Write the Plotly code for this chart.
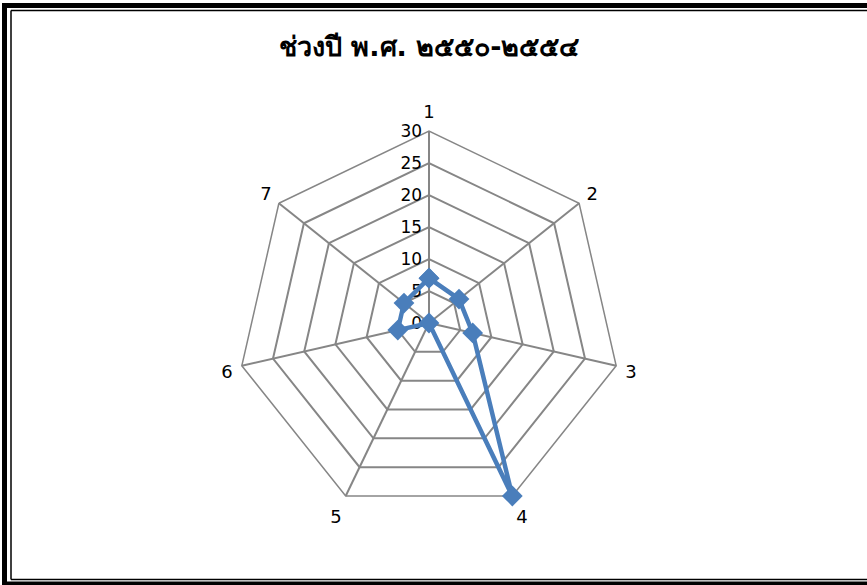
import plotly.graph_objects as go

categories = ["1", "2", "3", "4", "5", "6", "7"]
values = [7, 6, 7, 30, 0, 5, 5]
radial_ticks = [0, 5, 10, 15, 20, 25, 30]
title_text = "ช่วงปี พ.ศ. ๒๕๕๐-๒๕๕๔"

W, H = 867, 585
cx, cy, R = 429, 323, 192

fig = go.Figure()
# invisible trace on the grid polar so its angular categories are set
fig.add_trace(go.Scatterpolar(
    r=values, theta=categories, mode="markers",
    marker=dict(opacity=0), hoverinfo="skip", showlegend=False, subplot="polar",
))
# visible series on an overlaid, transparent polar (circular shape keeps the r=0 marker)
fig.add_trace(go.Scatterpolar(
    r=values + values[:1],
    theta=categories + categories[:1],
    mode="lines+markers",
    line=dict(color="#4a7ebb", width=4.5),
    marker=dict(symbol="diamond", size=16, color="#4a7ebb"),
    cliponaxis=False,
    showlegend=False,
    subplot="polar2",
))

def px_x(x):
    return x / W

def px_y(y):
    return 1 - y / H

shapes = []
# thick outer border (left, top, bottom)
shapes.append(dict(type="line", xref="paper", yref="paper", x0=px_x(4.5), x1=px_x(4.5), y0=px_y(3), y1=px_y(585), line=dict(color="black", width=5)))
shapes.append(dict(type="line", xref="paper", yref="paper", x0=px_x(2), x1=px_x(867), y0=px_y(5.5), y1=px_y(5.5), line=dict(color="black", width=5)))
shapes.append(dict(type="line", xref="paper", yref="paper", x0=px_x(2), x1=px_x(867), y0=px_y(583.5), y1=px_y(583.5), line=dict(color="black", width=4)))
# thin inner border
shapes.append(dict(type="line", xref="paper", yref="paper", x0=px_x(11), x1=px_x(11), y0=px_y(10.5), y1=px_y(579.5), line=dict(color="black", width=1.5)))
shapes.append(dict(type="line", xref="paper", yref="paper", x0=px_x(11), x1=px_x(867), y0=px_y(10.5), y1=px_y(10.5), line=dict(color="black", width=1.5)))
shapes.append(dict(type="line", xref="paper", yref="paper", x0=px_x(11), x1=px_x(867), y0=px_y(579.5), y1=px_y(579.5), line=dict(color="black", width=1.5)))

font_family = "Tahoma, 'DejaVu Sans', 'Noto Sans', sans-serif"
domain = dict(x=[px_x(cx - R), px_x(cx + R)], y=[px_y(cy + R), px_y(cy - R)])

fig.update_layout(
    width=W, height=H,
    margin=dict(l=0, r=0, t=0, b=0),
    paper_bgcolor="white",
    font=dict(family=font_family, color="black", size=16),
    title=dict(text="<b>" + title_text + "</b>", x=0.495, xanchor="center",
               y=px_y(47), yanchor="middle", font=dict(size=27, color="black")),
    shapes=shapes,
    polar=dict(
        domain=domain,
        bgcolor="white",
        gridshape="linear",
        radialaxis=dict(
            range=[0, 30], tickvals=radial_ticks, angle=90, tickangle=90,
            side="counterclockwise",
            showline=True, linecolor="#868686", linewidth=2,
            gridcolor="#868686", gridwidth=1.5,
            ticks="", tickfont=dict(size=17, color="black"),
        ),
        angularaxis=dict(
            type="category", categoryarray=categories,
            direction="clockwise", rotation=90,
            showline=True, linecolor="#868686", linewidth=1.5,
            gridcolor="#868686", gridwidth=1.5,
            ticks="outside", ticklen=5, tickcolor="rgba(0,0,0,0)",
            tickfont=dict(size=18, color="black"),
        ),
    ),
    polar2=dict(
        domain=domain,
        bgcolor="rgba(0,0,0,0)",
        gridshape="circular",
        radialaxis=dict(
            range=[0, 30], visible=False, showgrid=False, showline=False,
            showticklabels=False, ticks="",
        ),
        angularaxis=dict(
            type="category", categoryarray=categories,
            direction="clockwise", rotation=90,
            visible=False, showgrid=False, showline=False,
            showticklabels=False, ticks="",
        ),
    ),
)

fig.write_html(
    "out.html",
    config={"displayModeBar": False},
    post_script="document.body.style.margin='0px';document.body.style.overflow='hidden';",
)
